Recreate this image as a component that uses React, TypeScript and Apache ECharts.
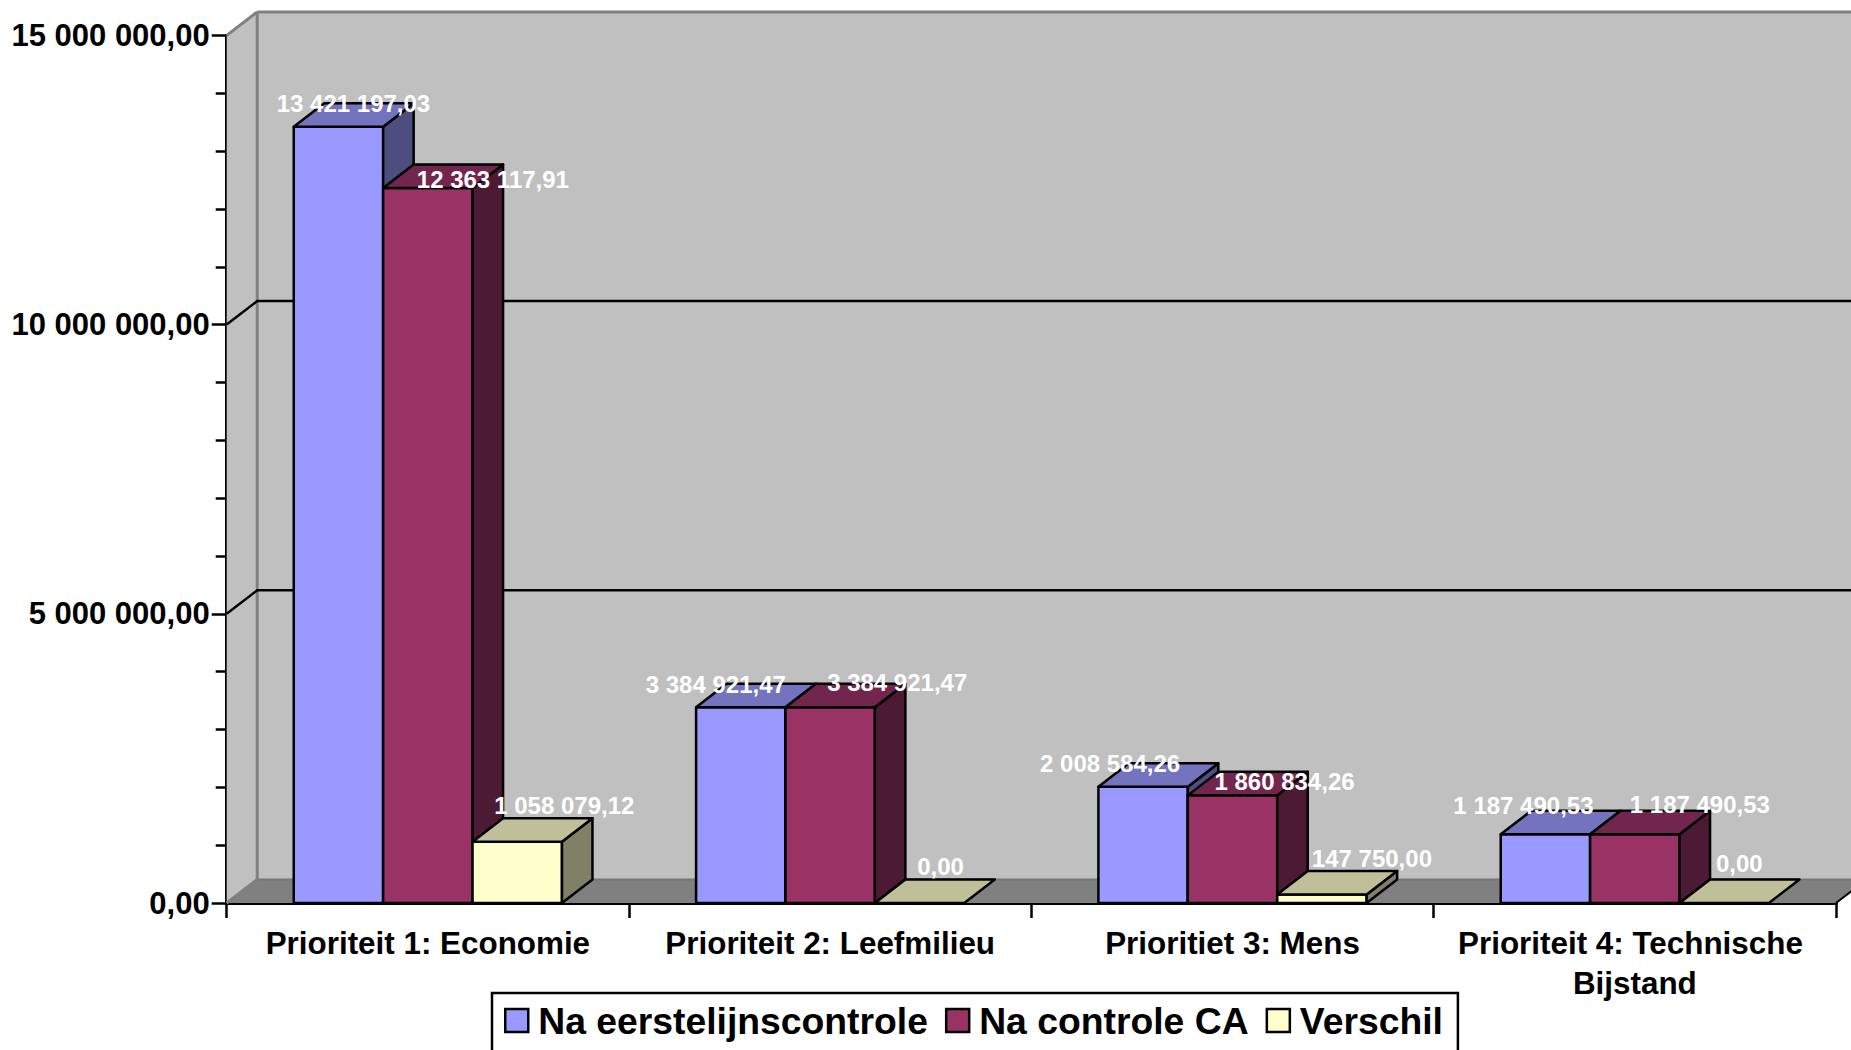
import React, { useEffect, useRef } from "react";
import * as echarts from "echarts";

const categories = [
  "Prioriteit 1: Economie",
  "Prioriteit 2: Leefmilieu",
  "Prioritiet 3: Mens",
  "Prioriteit 4: Technische Bijstand",
];
const seriesNames = ["Na eerstelijnscontrole", "Na controle CA", "Verschil"];
const eerstelijn = [13421197.03, 3384921.47, 2008584.26, 1187490.53];
const controleCA = [12363117.91, 3384921.47, 1860834.26, 1187490.53];
const verschil = [1058079.12, 0, 147750.0, 0];
const seriesValues = [eerstelijn, controleCA, verschil];

const FONT = '"Liberation Sans", Arial, sans-serif';
const W = 1851;
const H = 1050;
const DX = 30.5;
const DY = 23.5;
const frontColors = ["#9999FF", "#993366", "#FFFFCC"];
const topColors = ["#7373BF", "#73264D", "#BFBF99"];
const sideColors = ["#4D4D80", "#4D1A33", "#808066"];

// Hand placed label offsets from the bar's front-top centre, as in the reference
const labelDx = [
  [15, 65, 47],
  [-25, 67, 21],
  [-33, 52, 50],
  [-22, 65, 15],
];
const labelDy = [
  [-23, -8, -36],
  [-23, -25, -37],
  [-23, -14, -36],
  [-29, -30, -40],
];

const fmt = (v: number) => {
  const [i, d] = v.toFixed(2).split(".");
  return i.replace(/\B(?=(\d{3})+(?!\d))/g, " ") + "," + d;
};

function wallsRenderItem(params: any, api: any) {
  const cs = params.coordSys;
  const l = cs.x;
  const t = cs.y;
  const r = cs.x + cs.width;
  const b = cs.y + cs.height;
  const fine = { stroke: "#808080", lineWidth: 3 };
  const children: any[] = [
    { type: "polygon", shape: { points: [[l, b], [l + DX, b - DY], [l + DX, t - DY], [l, t]] }, style: { fill: "#C0C0C0", stroke: "none" } },
    { type: "rect", shape: { x: l + DX, y: t - DY, width: W - l, height: b - t }, style: { fill: "#C0C0C0", stroke: "none" } },
    { type: "polygon", shape: { points: [[l, b], [l + DX, b - DY], [r + DX, b - DY], [r, b]] }, style: { fill: "#808080", stroke: "none" } },
    { type: "line", shape: { x1: l, y1: t, x2: l + DX, y2: t - DY }, style: fine },
    { type: "line", shape: { x1: l + DX, y1: t - DY, x2: W, y2: t - DY }, style: fine },
    { type: "line", shape: { x1: l + DX, y1: t - DY, x2: l + DX, y2: b - DY }, style: fine },
    { type: "line", shape: { x1: l, y1: b, x2: l + DX, y2: b - DY }, style: fine },
    { type: "line", shape: { x1: l + DX, y1: b - DY, x2: W, y2: b - DY }, style: { stroke: "#777777", lineWidth: 2 } },
    { type: "line", shape: { x1: r, y1: b, x2: r + DX, y2: b - DY }, style: { stroke: "#000", lineWidth: 2 } },
  ];
  [5000000, 10000000].forEach((v) => {
    const y = api.coord([0, v])[1];
    children.push({ type: "polyline", shape: { points: [[l, y], [l + DX, y - DY], [W, y - DY]] }, style: { stroke: "#000", lineWidth: 2.5, fill: "none" } });
  });
  return { type: "group", children };
}

function barRenderItem(s: number) {
  return (_params: any, api: any) => {
    const c = api.value(0);
    const v = api.value(1);
    const band = api.size([1, 0])[0];
    const bw = band / 4.5;
    const p = api.coord([c, v]);
    const base = api.coord([c, 0])[1];
    const x0 = p[0] - 1.5 * bw + s * bw;
    const x1 = x0 + bw;
    const y = p[1];
    const stroke = { stroke: "#000", lineWidth: 2.5, lineJoin: "round" };
    const children: any[] = [];
    if (v > 0) {
      children.push({ type: "rect", shape: { x: x0, y, width: bw, height: base - y }, style: { fill: frontColors[s], ...stroke } });
      children.push({ type: "polygon", shape: { points: [[x1, y], [x1 + DX, y - DY], [x1 + DX, base - DY], [x1, base]] }, style: { fill: sideColors[s], ...stroke } });
    }
    children.push({ type: "polygon", shape: { points: [[x0, y], [x0 + DX, y - DY], [x1 + DX, y - DY], [x1, y]] }, style: { fill: topColors[s], ...stroke } });
    children.push({
      type: "text",
      z2: 100,
      x: x0 + bw / 2 + labelDx[c][s],
      y: y + labelDy[c][s],
      style: { text: fmt(v), fill: "#FFFFFF", font: `bold 24px ${FONT}`, textAlign: "center", textVerticalAlign: "middle" },
    });
    return { type: "group", children };
  };
}

export default function App() {
  const ref = useRef<HTMLDivElement>(null);
  useEffect(() => {
    document.body.style.margin = "0";
    const chart = echarts.init(ref.current!, undefined, { renderer: "svg" });
    chart.setOption({
      animation: false,
      backgroundColor: "#FFFFFF",
      grid: { left: 226.7, right: 15, top: 35.4, bottom: 147, containLabel: false },
      legend: {
        data: seriesNames,
        left: 492,
        top: 993,
        padding: [9, 15, 31, 12],
        backgroundColor: "#FFFFFF",
        borderColor: "#000",
        borderWidth: 2.5,
        borderRadius: 0,
        icon: "rect",
        itemWidth: 23,
        itemHeight: 23,
        itemGap: 17,
        itemStyle: { borderColor: "#000", borderWidth: 2.5 },
        textStyle: { fontFamily: FONT, fontWeight: "bold", fontSize: 37.3, color: "#000", padding: [0, 0, 0, 5] },
      },
      xAxis: {
        type: "category",
        data: categories,
        axisLine: { lineStyle: { color: "#000", width: 3 } },
        axisTick: { show: true, length: 15, lineStyle: { color: "#000", width: 2.5 } },
        axisLabel: {
          interval: 0,
          margin: 20,
          width: 380,
          overflow: "break",
          lineHeight: 40,
          color: "#000",
          fontFamily: FONT,
          fontWeight: "bold",
          fontSize: 31.4,
        },
        splitLine: { show: false },
      },
      yAxis: {
        type: "value",
        min: 0,
        max: 15000000,
        interval: 5000000,
        axisLine: { show: true, lineStyle: { color: "#000", width: 3 } },
        axisTick: { show: true, length: 15, lineStyle: { color: "#000", width: 2.5 } },
        minorTick: { show: true, splitNumber: 5, length: 11, lineStyle: { color: "#000", width: 2.5 } },
        splitLine: { show: false },
        minorSplitLine: { show: false },
        axisLabel: {
          margin: 17,
          formatter: (v: number) => fmt(v),
          color: "#000",
          fontFamily: FONT,
          fontWeight: "bold",
          fontSize: 31,
        },
      },
      series: [
        {
          type: "custom",
          silent: true,
          renderItem: wallsRenderItem,
          data: [[0, 0]],
          encode: { x: 0, y: 1 },
          z: 1,
        },
        ...seriesNames.map((name, s) => ({
          type: "custom",
          name,
          renderItem: barRenderItem(s),
          data: seriesValues[s].map((v, i) => [i, v]),
          encode: { x: 0, y: 1 },
          itemStyle: { color: frontColors[s] },
          z: 2,
        })),
      ],
    });
    return () => chart.dispose();
  }, []);
  return <div ref={ref} style={{ width: W, height: H, position: "fixed", left: 0, top: 0, overflow: "hidden" }} />;
}
